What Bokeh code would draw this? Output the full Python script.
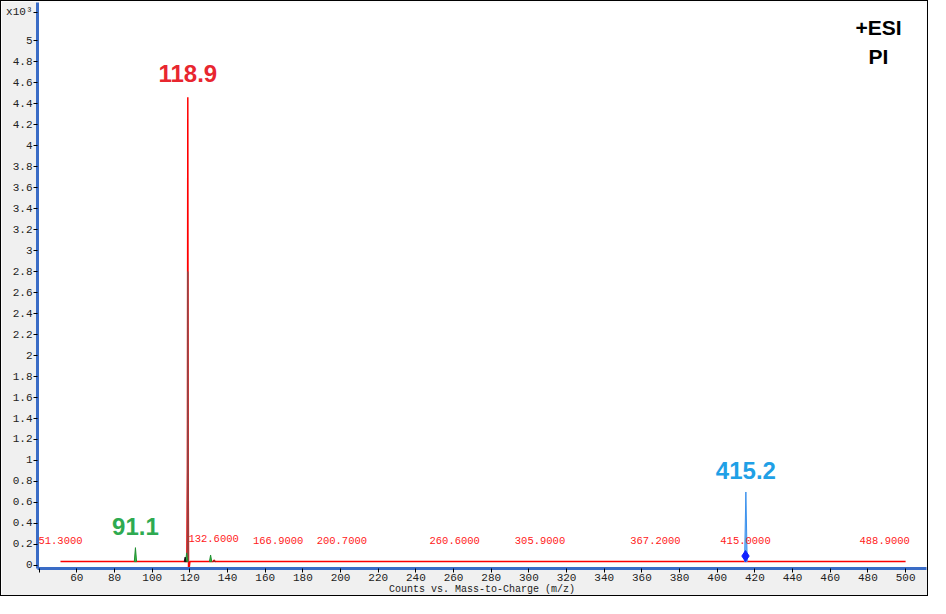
from bokeh.plotting import figure
from bokeh.models import Range1d, FixedTicker, ColumnDataSource, Label
from bokeh.core.properties import value
from bokeh.embed import file_html
from bokeh.resources import INLINE

# ---------------- data (m/z, intensity x10^3) ----------------
red_mz = [51.3, 117.9, 118.4, 118.7, 118.9, 119.1, 119.3, 119.6, 120.0, 132.3, 132.8, 133.4, 500.0]
red_y = [0.037, 0.037, 0.037, 0.9, 4.46, 0.9, -0.03, -0.03, 0.037, 0.037, 0.05, 0.037, 0.037]

core_mz = [118.6, 118.9, 119.2]
core_y = [0.03, 2.8, 0.03]

green_peaks_mz = [91.1, 118.3, 131.0]
green_peaks_h = [0.17, 0.12, 0.10]

black_peaks_mz = [117.5]
black_peaks_h = [0.08]

darkred_peaks_mz = [133.0]
darkred_peaks_h = [0.05]

blue_peaks_mz = [415.2]
blue_peaks_h = [0.70]

marker_mz = [415.0]
marker_y = [0.09]

label_mz = [51.3, 132.6, 166.9, 200.7, 260.6, 305.9, 367.2, 415.0, 488.9]
label_y = [0.24, 0.26, 0.24, 0.24, 0.24, 0.24, 0.24, 0.24, 0.24]

peak_names = ["118.9", "91.1", "415.2"]
peak_name_mz = [118.9, 91.1, 415.2]
peak_name_y = [4.69, 0.37, 0.90]
peak_name_colors = ["#e8262f", "#2eaa50", "#1fa0e6"]

x_ticks = [40, 60, 80, 100, 120, 140, 160, 180, 200, 220, 240, 260, 280, 300,
           320, 340, 360, 380, 400, 420, 440, 460, 480, 500]
y_ticks = [0, 0.2, 0.4, 0.6, 0.8, 1, 1.2, 1.4, 1.6, 1.8, 2, 2.2, 2.4, 2.6, 2.8,
           3, 3.2, 3.4, 3.6, 3.8, 4, 4.2, 4.4, 4.6, 4.8, 5]
y_multiplier_text = "x10³"
y_multiplier_pos = 5.27

# ---------------- figure ----------------
p = figure(width=928, height=596, output_backend="svg", toolbar_location=None,
           x_range=Range1d(39.1, 511.1), y_range=Range1d(-0.0286, 5.362),
           min_border_left=36, min_border_right=3, min_border_top=1, min_border_bottom=26)
p.styles = {"border": "1px solid black"}
p.background_fill_color = "white"
p.border_fill_color = "#f0f0f0"
p.outline_line_color = None
p.grid.visible = False

mono = "Liberation Mono"
for ax in (p.xaxis[0], p.yaxis[0]):
    ax.axis_line_color = "#3a6cc6"
    ax.axis_line_width = 3
    ax.major_tick_line_color = "black"
    ax.major_tick_out = 4
    ax.major_tick_in = 0
    ax.minor_tick_line_color = None
    ax.major_label_text_font = mono
    ax.major_label_text_font_size = "11px"
    ax.major_label_text_color = "#222222"
    ax.major_label_standoff = 1

p.xaxis.ticker = FixedTicker(ticks=x_ticks)
p.xaxis.major_label_overrides = {40: ""}
p.yaxis.ticker = FixedTicker(ticks=y_ticks + [y_multiplier_pos])
overrides = {t: (str(int(t)) if float(t).is_integer() else f"{t:g}") for t in y_ticks}
overrides[y_multiplier_pos] = y_multiplier_text
p.yaxis.major_label_overrides = overrides
p.xaxis.axis_label = "Counts vs. Mass-to-Charge (m/z)"
p.xaxis.axis_label_text_font = mono
p.xaxis.axis_label_text_font_size = "10px"
p.xaxis.axis_label_text_font_style = "normal"
p.xaxis.axis_label_text_color = "#222222"
p.xaxis.axis_label_standoff = 0


def tri(mzs, hs, hw, base=0.037):
    xs = [[m - hw, m, m + hw] for m in mzs]
    ys = [[base, h, base] for h in hs]
    return xs, ys


# red spectrum
p.line(red_mz, red_y, line_color="#ff0000", line_width=1.5)
p.line(core_mz, core_y, line_color="#8a4a4a", line_width=1)

gx, gy = tri(green_peaks_mz, green_peaks_h, 0.6)
p.patches(gx, gy, fill_color="#3cc04a", line_color="#1f8f2f", line_width=1)
bx, by = tri(black_peaks_mz, black_peaks_h, 0.5)
p.patches(bx, by, fill_color="#111111", line_color="#111111", line_width=1)
dx, dy = tri(darkred_peaks_mz, darkred_peaks_h, 0.8)
p.patches(dx, dy, fill_color="#a02020", line_color="#a02020", line_width=1)
ux, uy = tri(blue_peaks_mz, blue_peaks_h, 0.7)
p.patches(ux, uy, fill_color="#7ab8f5", line_color="#3a90ec", line_width=1)

p.scatter(marker_mz, marker_y, marker="diamond", size=11, fill_color="#1020ff", line_color="#1020ff")

# red m/z labels
lsrc = ColumnDataSource(dict(x=label_mz, y=label_y, t=[f"{v:.4f}" for v in label_mz]))
p.text(x="x", y="y", text="t", source=lsrc, text_color="#ff2020", text_font=value(mono),
       text_font_size="10.5px", text_align="center", text_baseline="middle")

# peak names
nsrc = ColumnDataSource(dict(x=peak_name_mz, y=peak_name_y, t=peak_names, c=peak_name_colors))
p.text(x="x", y="y", text="t", text_color="c", source=nsrc, text_font=value("Liberation Sans"),
       text_font_size="24px", text_font_style="bold", text_align="center", text_baseline="middle")

# ion mode text
p.add_layout(Label(x=485.6, y=5.12, text="+ESI", text_font="Liberation Sans", text_font_size="21px",
                   text_font_style="bold", text_align="center", text_baseline="middle", text_color="black"))
p.add_layout(Label(x=485.6, y=4.85, text="PI", text_font="Liberation Sans", text_font_size="21px",
                   text_font_style="bold", text_align="center", text_baseline="middle", text_color="black"))

open("out.html", "w").write(file_html(p, INLINE))
